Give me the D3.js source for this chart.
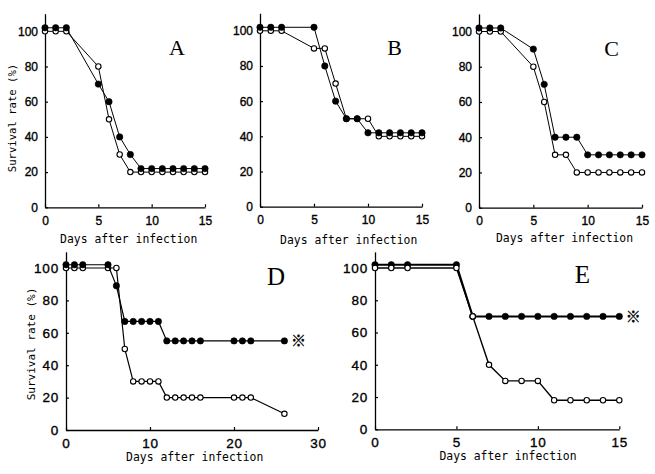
<!DOCTYPE html>
<html>
<head>
<meta charset="utf-8">
<script src="https://cdn.jsdelivr.net/npm/d3@7"></script>
<style>
  html, body { margin: 0; padding: 0; background: #fff; }
  svg { display: block; }
</style>
</head>
<body>
<svg id="chart" width="655" height="474"></svg>
<script>
// ---- data ----
const daysShort = [0, 1, 2, 5, 6, 7, 8, 9, 10, 11, 12, 13, 14, 15];
const daysD = [0, 1, 2, 5, 6, 7, 8, 9, 10, 11, 12, 13, 14, 15, 16, 20, 21, 22, 26];

const filledA = [102, 102, 102, 70, 60, 40, 30, 22, 22, 22, 22, 22, 22, 22];
const openA   = [100, 100, 100, 80, 50, 30, 20, 20, 20, 20, 20, 20, 20, 20];

const filledB = [102, 102, 102, 102, 80, 60, 50, 50, 42, 42, 42, 42, 42, 42];
const openB   = [100, 100, 100, 90, 90, 70, 50, 50, 50, 40, 40, 40, 40, 40];

const filledC = [102, 102, 102, 90, 70, 40, 40, 40, 30, 30, 30, 30, 30, 30];
const openC   = [100, 100, 100, 80, 60, 30, 30, 20, 20, 20, 20, 20, 20, 20];

const filledD = [102, 102, 102, 102, 89, 67, 67, 67, 67, 67, 55, 55, 55, 55, 55, 55, 55, 55, 55];
const openD   = [100, 100, 100, 100, 100, 50, 30, 30, 30, 30, 20, 20, 20, 20, 20, 20, 20, 20, 10];

const filledE = [102, 102, 102, 102, 70, 70, 70, 70, 70, 70, 70, 70, 70, 70];
const openE   = [100, 100, 100, 100, 70, 40, 30, 30, 30, 18, 18, 18, 18, 18];

const yTicks = [0, 20, 40, 60, 80, 100];
const xTicks15 = [0, 5, 10, 15];
const xTicks30 = [0, 10, 20, 30];
const panelLetters = ["A", "B", "C", "D", "E"];
const xTitle = "Days after infection";
const yTitle = "Survival rate (%)";
const sigMark = "\u203B";

// ---- layout (styles/positions) ----
const panels = [
  { letter: panelLetters[0], days: daysShort, filled: filledA, open: openA, xMax: 15, xTicks: xTicks15,
    x0: 45, x1: 205, y0: 207.3, y100: 31.3, tickFont: 12, tickLS: 0, xPad: 9, lw: 1, lwF: 1,
    letterPos: [177, 55], letterSize: 22, xTitlePos: [128.7, 243], yTitlePos: [12.5, 118], yTitleSize: 10.6,
    openOnTop: false, mark: false },
  { letter: panelLetters[1], days: daysShort, filled: filledB, open: openB, xMax: 15, xTicks: xTicks15,
    x0: 260, x1: 422, y0: 206.7, y100: 30.8, tickFont: 12, tickLS: 0, xPad: 9, lw: 1, lwF: 1,
    letterPos: [394.5, 55], letterSize: 22, xTitlePos: [348.7, 244], yTitlePos: null,
    openOnTop: false, mark: false },
  { letter: panelLetters[2], days: daysShort, filled: filledC, open: openC, xMax: 15, xTicks: xTicks15,
    x0: 479, x1: 642, y0: 207.7, y100: 31.5, tickFont: 12, tickLS: 0, xPad: 9, lw: 1, lwF: 1,
    letterPos: [611.7, 56], letterSize: 22, xTitlePos: [564.5, 242], yTitlePos: null,
    openOnTop: false, mark: false },
  { letter: panelLetters[3], days: daysD, filled: filledD, open: openD, xMax: 30, xTicks: xTicks30,
    x0: 66, x1: 318, y0: 430, y100: 268, tickFont: 13.5, tickLS: 0.8, xPad: 8, lw: 1.2, lwF: 1.2,
    letterPos: [276, 285], letterSize: 25, xTitlePos: [194.7, 461], yTitlePos: [31, 344], yTitleSize: 11,
    openOnTop: false, mark: true },
  { letter: panelLetters[4], days: daysShort, filled: filledE, open: openE, xMax: 15, xTicks: xTicks15,
    x0: 375, x1: 619.3, y0: 429.3, y100: 268, tickFont: 13.5, tickLS: 0.8, xPad: 8, lw: 1.4, lwF: 2,
    letterPos: [582.5, 283], letterSize: 25, xTitlePos: [508, 459.5], yTitlePos: null,
    openOnTop: true, mark: true }
];

const svg = d3.select("#chart");
svg.append("rect").attr("width", 655).attr("height", 474).attr("fill", "#fff");

panels.forEach(p => {
  const g = svg.append("g");
  const x = d3.scaleLinear().domain([0, p.xMax]).range([p.x0, p.x1]);
  const yScale100 = d3.scaleLinear().domain([0, 100]).range([p.y0, p.y100]);
  const y = d3.scaleLinear().domain([0, 110]).range([p.y0, yScale100(110)]);

  // axes
  const xAxis = d3.axisBottom(x).tickValues(p.xTicks).tickSizeInner(-3).tickSizeOuter(0)
    .tickPadding(p.xPad).tickFormat(d3.format("d"));
  const yAxis = d3.axisLeft(y).tickValues(yTicks).tickSizeInner(-3).tickSizeOuter(0)
    .tickPadding(7).tickFormat(d3.format("d"));

  const gx = g.append("g").attr("transform", `translate(0,${p.y0})`).call(xAxis);
  const gy = g.append("g").attr("transform", `translate(${p.x0},0)`).call(yAxis);
  [gx, gy].forEach(a => {
    a.select(".domain").attr("stroke", "#000").attr("stroke-width", 1.3);
    a.selectAll(".tick line").attr("stroke", "#000").attr("stroke-width", 1.2);
    a.selectAll(".tick text")
      .attr("fill", "#000")
      .attr("stroke", "#000").attr("stroke-width", 0.35)
      .style("font-family", "'Liberation Sans', Arial, sans-serif")
      .style("font-size", p.tickFont + "px")
      .style("letter-spacing", p.tickLS + "px");
  });

  const filledPts = p.days.map((d, i) => [d, p.filled[i]]);
  const openPts = p.days.map((d, i) => [d, p.open[i]]);
  const line = d3.line().x(d => x(d[0])).y(d => y(d[1]));

  const drawSeries = (pts, isFilled) => {
    g.append("path").datum(pts).attr("d", line).attr("fill", "none")
      .attr("stroke", "#000").attr("stroke-width", isFilled ? p.lwF : p.lw);
    g.append("g").selectAll("circle").data(pts).join("circle")
      .attr("cx", d => x(d[0])).attr("cy", d => y(d[1]))
      .attr("r", isFilled ? 3.2 : 2.7)
      .attr("fill", isFilled ? "#000" : "#fff")
      .attr("stroke", "#000").attr("stroke-width", isFilled ? 0.6 : 1.1);
  };
  if (p.openOnTop) { drawSeries(filledPts, true); drawSeries(openPts, false); }
  else { drawSeries(openPts, false); drawSeries(filledPts, true); }

  // panel letter
  g.append("text").attr("x", p.letterPos[0]).attr("y", p.letterPos[1])
    .attr("text-anchor", "middle")
    .style("font-family", "'Liberation Serif', 'Times New Roman', serif")
    .style("font-size", p.letterSize + "px").attr("fill", "#000").text(p.letter);

  // x title
  g.append("text").attr("x", p.xTitlePos[0]).attr("y", p.xTitlePos[1])
    .attr("text-anchor", "middle")
    .style("font-family", "'DejaVu Sans Mono', 'Liberation Mono', monospace")
    .style("font-size", "11.4px").attr("fill", "#000").text(xTitle);

  // y title
  if (p.yTitlePos) {
    g.append("text")
      .attr("transform", `translate(${p.yTitlePos[0]},${p.yTitlePos[1]}) rotate(-90)`)
      .attr("text-anchor", "middle").attr("dy", "0.35em")
      .style("font-family", "'DejaVu Sans Mono', 'Liberation Mono', monospace")
      .style("font-size", p.yTitleSize + "px").attr("fill", "#000").text(yTitle);
  }

  // significance mark
  if (p.mark) {
    const last = filledPts[filledPts.length - 1];
    g.append("text").attr("x", x(last[0]) + 14).attr("y", y(last[1]))
      .attr("dy", "0.35em").attr("text-anchor", "middle")
      .style("font-family", "'Noto Sans CJK JP', 'Noto Sans CJK SC', sans-serif")
      .style("font-size", "15px").attr("fill", "#000")
      .attr("stroke", "#000").attr("stroke-width", 0.3).text(sigMark);
  }
});
</script>
</body>
</html>
